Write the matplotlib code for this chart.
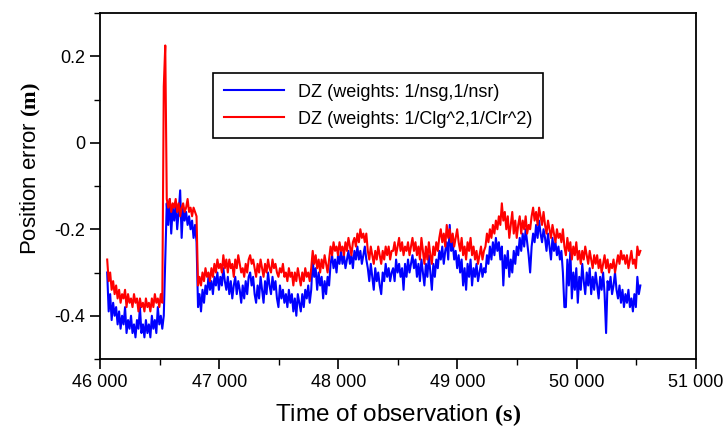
import numpy as np
import matplotlib
matplotlib.use('Agg')
import matplotlib.pyplot as plt
from matplotlib.ticker import MultipleLocator, FuncFormatter

# sampling times of the series (one reading every 12.5 s)
t = np.arange(46060, 50536, 12.5)

# DZ with weights 1/nsg, 1/nsr  (blue)
blue = [
    # 46060 - 46522.5
    -0.30, -0.39, -0.35, -0.41, -0.37, -0.40, -0.38, -0.42, -0.39, -0.43,
    -0.40, -0.42, -0.38, -0.44, -0.41, -0.43, -0.40, -0.44, -0.42, -0.45,
    -0.41, -0.43, -0.38, -0.44, -0.42, -0.45, -0.41, -0.44, -0.42, -0.45,
    -0.40, -0.43, -0.41, -0.44, -0.38, -0.42, -0.40, -0.43,
    # jump 46535 - 46560
    -0.40, -0.27, -0.14,
    # plateau 46572.5 - 46810
    -0.19, -0.13, -0.21, -0.15, -0.18, -0.14, -0.20, -0.16, -0.11, -0.22,
    -0.15, -0.18, -0.16, -0.19, -0.17, -0.20, -0.18, -0.22, -0.19, -0.23,
    # 46822.5 - 47772.5
    -0.38, -0.35, -0.39, -0.34, -0.37, -0.33, -0.35, -0.31, -0.34, -0.32,
    -0.35, -0.31, -0.33, -0.30, -0.34, -0.31, -0.33, -0.29, -0.32, -0.34,
    -0.31, -0.35, -0.32, -0.36, -0.33, -0.31, -0.35, -0.32, -0.34, -0.37,
    -0.33, -0.36, -0.32, -0.35, -0.31, -0.30, -0.33, -0.31, -0.35, -0.37,
    -0.33, -0.36, -0.31, -0.34, -0.37, -0.32, -0.35, -0.30, -0.33, -0.35,
    -0.31, -0.34, -0.32, -0.36, -0.38, -0.33, -0.36, -0.34, -0.37, -0.35,
    -0.38, -0.34, -0.37, -0.35, -0.39, -0.36, -0.40, -0.35, -0.37, -0.39,
    -0.35, -0.38, -0.34, -0.36, -0.33, -0.37, -0.34,
    # 47785 - 48447.5
    -0.27, -0.31, -0.29, -0.34, -0.30, -0.33, -0.31, -0.36, -0.32, -0.35,
    -0.31, -0.33, -0.28, -0.26, -0.29, -0.27, -0.30, -0.26, -0.28, -0.25,
    -0.28, -0.26, -0.29, -0.27, -0.25, -0.28, -0.26, -0.29, -0.25, -0.27,
    -0.24, -0.27, -0.25, -0.28, -0.26, -0.24, -0.27, -0.29, -0.32, -0.28,
    -0.31, -0.34, -0.29, -0.32, -0.30, -0.33, -0.35, -0.30, -0.32, -0.28,
    -0.31, -0.29, -0.32, -0.30,
    # 48460 - 49222.5
    -0.29, -0.32, -0.27, -0.30, -0.28, -0.31, -0.29, -0.34, -0.28, -0.31,
    -0.27, -0.30, -0.28, -0.26, -0.29, -0.27, -0.31, -0.28, -0.32, -0.27,
    -0.30, -0.33, -0.28, -0.31, -0.26, -0.30, -0.34, -0.28, -0.31, -0.27,
    -0.29, -0.25, -0.27, -0.24, -0.28, -0.25, -0.23, -0.27, -0.19, -0.25,
    -0.23, -0.27, -0.25, -0.29, -0.26, -0.30, -0.27, -0.33, -0.29, -0.34,
    -0.28, -0.31, -0.27, -0.33, -0.29, -0.31, -0.28, -0.32, -0.30, -0.28,
    -0.31, -0.29,
    # 49235 - 49897.5
    -0.30, -0.26, -0.28, -0.24, -0.27, -0.23, -0.26, -0.22, -0.25, -0.23,
    -0.27, -0.24, -0.33, -0.26, -0.29, -0.25, -0.31, -0.27, -0.30, -0.25,
    -0.28, -0.24, -0.26, -0.22, -0.25, -0.21, -0.24, -0.20, -0.23, -0.26,
    -0.30, -0.24, -0.21, -0.23, -0.19, -0.22, -0.18, -0.21, -0.23, -0.20,
    -0.22, -0.25, -0.21, -0.24, -0.27, -0.22, -0.25, -0.23, -0.26, -0.24,
    -0.27, -0.25, -0.30, -0.38,
    # 49910 - 50535
    -0.38, -0.27, -0.33, -0.25, -0.36, -0.30, -0.34, -0.29, -0.37, -0.31,
    -0.34, -0.28, -0.32, -0.35, -0.30, -0.33, -0.29, -0.35, -0.31, -0.34,
    -0.30, -0.33, -0.36, -0.31, -0.34, -0.30, -0.35, -0.44, -0.32, -0.34,
    -0.31, -0.35, -0.33, -0.30, -0.34, -0.36, -0.33, -0.37, -0.34, -0.38,
    -0.35, -0.37, -0.34, -0.38, -0.36, -0.39, -0.35, -0.38, -0.31, -0.35,
    -0.33,
]

# DZ with weights 1/Clg^2, 1/Clr^2  (red)
red = [
    # 46060 - 46522.5
    -0.27, -0.32, -0.30, -0.34, -0.32, -0.35, -0.33, -0.36, -0.34, -0.37,
    -0.35, -0.36, -0.34, -0.38, -0.35, -0.37, -0.36, -0.38, -0.35, -0.37,
    -0.36, -0.39, -0.36, -0.38, -0.37, -0.39, -0.36, -0.38, -0.37, -0.39,
    -0.36, -0.38, -0.35, -0.37, -0.36, -0.38, -0.35, -0.37,
    # spike 46535 - 46560
    0.13, 0.225, -0.13,
    # plateau 46572.5 - 46810
    -0.15, -0.13, -0.16, -0.14, -0.15, -0.13, -0.16, -0.14, -0.17, -0.15,
    -0.14, -0.16, -0.15, -0.13, -0.16, -0.15, -0.17, -0.15, -0.16, -0.17,
    # 46822.5 - 47772.5
    -0.33, -0.31, -0.33, -0.30, -0.32, -0.29, -0.31, -0.30, -0.32, -0.29,
    -0.31, -0.28, -0.30, -0.27, -0.29, -0.28, -0.30, -0.26, -0.29, -0.27,
    -0.30, -0.27, -0.29, -0.28, -0.31, -0.27, -0.29, -0.26, -0.28, -0.30,
    -0.29, -0.31, -0.28, -0.30, -0.27, -0.26, -0.28, -0.27, -0.29, -0.31,
    -0.28, -0.30, -0.27, -0.29, -0.31, -0.28, -0.30, -0.27, -0.29, -0.30,
    -0.27, -0.29, -0.28, -0.30, -0.31, -0.29, -0.30, -0.28, -0.31, -0.30,
    -0.32, -0.29, -0.31, -0.30, -0.33, -0.30, -0.32, -0.29, -0.31, -0.33,
    -0.30, -0.32, -0.29, -0.31, -0.30, -0.32, -0.29,
    # 47785 - 48447.5
    -0.25, -0.28, -0.26, -0.29, -0.27, -0.30, -0.27, -0.29, -0.26, -0.28,
    -0.30, -0.27, -0.24, -0.26, -0.23, -0.25, -0.24, -0.26, -0.23, -0.25,
    -0.24, -0.26, -0.23, -0.25, -0.22, -0.24, -0.26, -0.23, -0.22, -0.24,
    -0.21, -0.23, -0.20, -0.22, -0.21, -0.23, -0.21, -0.25, -0.27, -0.24,
    -0.26, -0.28, -0.25, -0.27, -0.24, -0.26, -0.28, -0.25, -0.27, -0.24,
    -0.26, -0.24, -0.27, -0.25,
    # 48460 - 49222.5
    -0.25, -0.23, -0.26, -0.24, -0.22, -0.25, -0.23, -0.26, -0.24, -0.25,
    -0.23, -0.26, -0.24, -0.22, -0.25, -0.23, -0.26, -0.24, -0.27, -0.22,
    -0.25, -0.28, -0.24, -0.27, -0.23, -0.26, -0.28, -0.24, -0.26, -0.23,
    -0.25, -0.22, -0.20, -0.23, -0.21, -0.24, -0.19, -0.22, -0.20, -0.23,
    -0.21, -0.24, -0.22, -0.20, -0.23, -0.25, -0.22, -0.26, -0.24, -0.27,
    -0.23, -0.25, -0.22, -0.26, -0.24, -0.27, -0.25, -0.28, -0.26, -0.24,
    -0.27, -0.25,
    # 49235 - 49897.5
    -0.24, -0.21, -0.23, -0.20, -0.22, -0.19, -0.21, -0.18, -0.20, -0.17,
    -0.19, -0.14, -0.18, -0.16, -0.20, -0.17, -0.22, -0.19, -0.16, -0.21,
    -0.18, -0.22, -0.19, -0.17, -0.21, -0.18, -0.20, -0.17, -0.21, -0.19,
    -0.20, -0.17, -0.15, -0.18, -0.16, -0.19, -0.15, -0.17, -0.19, -0.16,
    -0.19, -0.21, -0.18, -0.20, -0.22, -0.19, -0.21, -0.23, -0.20, -0.22,
    -0.21, -0.23, -0.20, -0.24,
    # 49910 - 50535
    -0.26, -0.22, -0.25, -0.23, -0.27, -0.24, -0.26, -0.23, -0.27, -0.25,
    -0.28, -0.25, -0.27, -0.24, -0.26, -0.28, -0.25, -0.27, -0.29, -0.26,
    -0.28, -0.26, -0.29, -0.27, -0.30, -0.28, -0.26, -0.29, -0.27, -0.30,
    -0.28, -0.29, -0.27, -0.30, -0.28, -0.26, -0.28, -0.25, -0.27, -0.26,
    -0.28, -0.26, -0.29, -0.27, -0.25, -0.28, -0.27, -0.29, -0.24, -0.26,
    -0.25,
]

labels = ['DZ (weights: 1/nsg,1/nsr)', 'DZ (weights: 1/Clg^2,1/Clr^2)']

plt.rcParams['font.family'] = ['Liberation Sans', 'DejaVu Sans']
plt.rcParams['mathtext.fontset'] = 'custom'
plt.rcParams['mathtext.bf'] = 'Liberation Serif:bold'

fig = plt.figure(figsize=(7.27, 4.37), dpi=100)
ax = fig.add_axes([0.1376, 0.1785, 0.8194, 0.7917])

ax.plot(t, blue, color='#0000ff', lw=1.5, label=labels[0])
ax.plot(t, red, color='#ff0000', lw=1.5, label=labels[1])

ax.set_xlim(46000, 51000)
ax.set_ylim(-0.5, 0.3)
ax.xaxis.set_major_locator(MultipleLocator(1000))
ax.xaxis.set_minor_locator(MultipleLocator(500))
ax.yaxis.set_major_locator(MultipleLocator(0.2))
ax.yaxis.set_minor_locator(MultipleLocator(0.1))
ax.xaxis.set_major_formatter(FuncFormatter(lambda v, p: '{:,.0f}'.format(v).replace(',', ' ')))
ax.yaxis.set_major_formatter(FuncFormatter(lambda v, p: '0' if abs(v) < 1e-9 else '{:g}'.format(round(v, 1))))
ax.tick_params(which='major', length=7, width=1.2, labelsize=13, direction='out')
ax.tick_params(which='minor', length=4, width=1.0, direction='out')
for s in ax.spines.values():
    s.set_linewidth(1.3)

ax.set_xlabel(r'Time of observation $\mathbf{(s)}$', fontsize=17.5, labelpad=8)
ax.set_ylabel(r'Position error $\mathbf{(m)}$', fontsize=16, labelpad=8, y=0.55)

leg = ax.legend(loc='upper left', bbox_to_anchor=(0.19, 0.827), fontsize=13,
                frameon=True, fancybox=False, edgecolor='black', framealpha=1,
                handlelength=3.3, borderpad=0.6, labelspacing=0.55,
                borderaxespad=0)
leg.get_frame().set_linewidth(1.2)

fig.savefig('out.png', dpi=100)
